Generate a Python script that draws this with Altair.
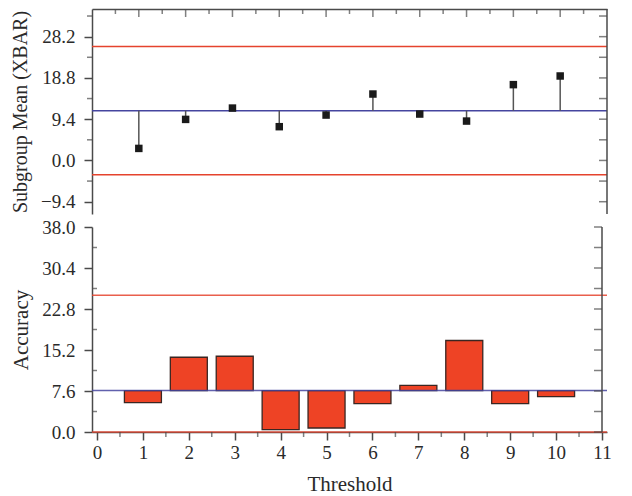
import altair as alt
import pandas as pd

# ---- data ----
thresholds = [1, 2, 3, 4, 5, 6, 7, 8, 9, 10]
xbar_values = [2.74, 9.35, 11.93, 7.69, 10.34, 15.13, 10.57, 8.97, 17.27, 19.24]
accuracy_values = [5.44, 13.86, 14.04, 0.43, 0.74, 5.26, 8.66, 16.96, 5.26, 6.56]
xbar_cl, xbar_ucl, xbar_lcl = 11.34, 25.94, -3.26
acc_cl, acc_ucl, acc_lcl = 7.67, 25.37, 0.0

x_ticks = list(range(0, 12))
x_minor = [i + 0.5 for i in range(11)]
x_inner = list(range(1, 11))
xbar_ticks = [-9.4, 0.0, 9.4, 18.8, 28.2]
xbar_minor = [-4.7, 4.7, 14.1, 23.5, 32.9]
acc_ticks = [0.0, 7.6, 15.2, 22.8, 30.4, 38.0]
acc_minor = [3.8, 11.4, 19.0, 26.6, 34.2]

x_domain = [0, 11]
top_domain = [-12.2, 34.5]
bot_domain = [0, 38]

# ---- styles ----
W, H_TOP, H_BOT = 515, 205, 205
red = "#E5432D"
blue = "#45459F"
bar_fill = "#EE4325"
bar_stroke = "#3A2622"
axis_col = "#4A4A4A"
text_col = "#2A2A2A"
FONT = "Liberation Serif"

xs = alt.Scale(domain=x_domain, nice=False, zero=False)
ys_top = alt.Scale(domain=top_domain, nice=False, zero=False)
ys_bot = alt.Scale(domain=bot_domain, nice=False, zero=False)

ax_x_top = alt.Axis(orient="top", labels=False, ticks=False, domain=True, grid=False)
ax_x_bot = alt.Axis(values=x_ticks, format="d", tickSize=8, labelPadding=3,
                    titlePadding=11, grid=False, labelFlush=False,
                    labelOverlap=False, titleFontSize=21)
ax_y_top = alt.Axis(values=xbar_ticks, format=".1f", tickSize=8, labelPadding=9,
                    titlePadding=10, grid=False, titleFontSize=20)
ax_y_bot = alt.Axis(values=acc_ticks, format=".1f", tickSize=8, labelPadding=9,
                    titlePadding=10, grid=False, titleFontSize=21)


def xt(f):
    return alt.X(f, type="quantitative", scale=xs, axis=ax_x_top, title=None)


def xb(f):
    return alt.X(f, type="quantitative", scale=xs, axis=ax_x_bot, title="Threshold")


def yt(f):
    return alt.Y(f, type="quantitative", scale=ys_top, axis=ax_y_top,
                 title="Subgroup Mean (XBAR)")


def yb(f):
    return alt.Y(f, type="quantitative", scale=ys_bot, axis=ax_y_bot, title="Accuracy")


df = pd.DataFrame({"t": thresholds, "xbar": xbar_values, "acc": accuracy_values})
df["xcl"] = xbar_cl
df["acl"] = acc_cl

# ---------------- top panel ----------------
top_limits = alt.Chart(pd.DataFrame({"y": [xbar_ucl, xbar_lcl]})).mark_rule(
    color=red, strokeWidth=1.5).encode(y=yt("y"))
top_cl = alt.Chart(pd.DataFrame({"y": [xbar_cl]})).mark_rule(
    color=blue, strokeWidth=1.5).encode(y=yt("y"))
drops = alt.Chart(df).mark_rule(color="#555555", strokeWidth=1.5).encode(
    x=xt("t"), y=yt("xcl"), y2=alt.Y2("xbar"))
points = alt.Chart(df).mark_square(size=56, color="#1A1A1A", opacity=1).encode(
    x=xt("t"), y=yt("xbar"))

top_left_minor = alt.Chart(pd.DataFrame({"v": xbar_minor, "xp": [x_domain[0]] * len(xbar_minor)})).mark_tick(
    orient="horizontal", size=5, thickness=1.5, xOffset=-2.5, color=axis_col).encode(x=xt("xp"), y=yt("v"))
top_right = alt.Chart(pd.DataFrame({"v": xbar_ticks + xbar_minor,
                                    "xp": [x_domain[1]] * (len(xbar_ticks) + len(xbar_minor))})).mark_tick(
    orient="horizontal", size=8, thickness=1.5, xOffset=-4, color=axis_col).encode(x=xt("xp"), y=yt("v"))
top_top_major = alt.Chart(pd.DataFrame({"t": x_inner, "yp": [top_domain[1]] * len(x_inner)})).mark_tick(
    orient="vertical", size=8, thickness=1.5, yOffset=4, color=axis_col).encode(x=xt("t"), y=yt("yp"))
top_top_minor = alt.Chart(pd.DataFrame({"t": x_minor, "yp": [top_domain[1]] * len(x_minor)})).mark_tick(
    orient="vertical", size=5, thickness=1.5, yOffset=2.5, color=axis_col).encode(x=xt("t"), y=yt("yp"))
top_right_border = alt.Chart(pd.DataFrame({"xp": [x_domain[1]]})).mark_rule(
    color=axis_col, strokeWidth=1.5).encode(x=xt("xp"))

top = alt.layer(top_limits, top_cl, drops, points, top_left_minor, top_right,
                top_top_major, top_top_minor, top_right_border).properties(width=W, height=H_TOP)

# ---------------- bottom panel ----------------
bars = alt.Chart(df).mark_bar(width=37, color=bar_fill, stroke=bar_stroke,
                              strokeWidth=1.3, opacity=1).encode(
    x=xb("t"), y=yb("acl"), y2=alt.Y2("acc"))
bot_cl = alt.Chart(pd.DataFrame({"y": [acc_cl]})).mark_rule(
    color=blue, strokeWidth=1.5, opacity=0.85).encode(y=yb("y"))
bot_limits = alt.Chart(pd.DataFrame({"y": [acc_ucl, acc_lcl]})).mark_rule(
    color=red, strokeWidth=1.5, opacity=0.85).encode(y=yb("y"))

bot_left_minor = alt.Chart(pd.DataFrame({"v": acc_minor, "xp": [x_domain[0]] * len(acc_minor)})).mark_tick(
    orient="horizontal", size=5, thickness=1.5, xOffset=-2.5, color=axis_col).encode(x=xb("xp"), y=yb("v"))
bot_right = alt.Chart(pd.DataFrame({"v": acc_ticks + acc_minor,
                                    "xp": [x_domain[1]] * (len(acc_ticks) + len(acc_minor))})).mark_tick(
    orient="horizontal", size=8, thickness=1.5, xOffset=-4, color=axis_col).encode(x=xb("xp"), y=yb("v"))
bot_bottom_minor = alt.Chart(pd.DataFrame({"t": x_minor, "yp": [bot_domain[0]] * len(x_minor)})).mark_tick(
    orient="vertical", size=5, thickness=1.5, yOffset=2.5, color=axis_col).encode(x=xb("t"), y=yb("yp"))
bot_right_border = alt.Chart(pd.DataFrame({"xp": [x_domain[1]]})).mark_rule(
    color=axis_col, strokeWidth=1.5).encode(x=xb("xp"))

bottom = alt.layer(bars, bot_cl, bot_limits, bot_left_minor, bot_right,
                   bot_bottom_minor, bot_right_border).properties(width=W, height=H_BOT)

chart = alt.vconcat(top, bottom, spacing=13, bounds="flush").properties(
    padding={"left": 2, "top": 0, "right": 5, "bottom": 0}
).configure_view(stroke=None).configure_axis(
    labelFont=FONT, titleFont=FONT, labelFontSize=19, titleFontSize=20,
    titleFontWeight="normal", labelColor=text_col, titleColor=text_col,
    domainColor=axis_col, tickColor=axis_col, domainWidth=1.5, tickWidth=1.5,
)

chart.save("out.html", embed_options={"renderer": "svg", "actions": False})
